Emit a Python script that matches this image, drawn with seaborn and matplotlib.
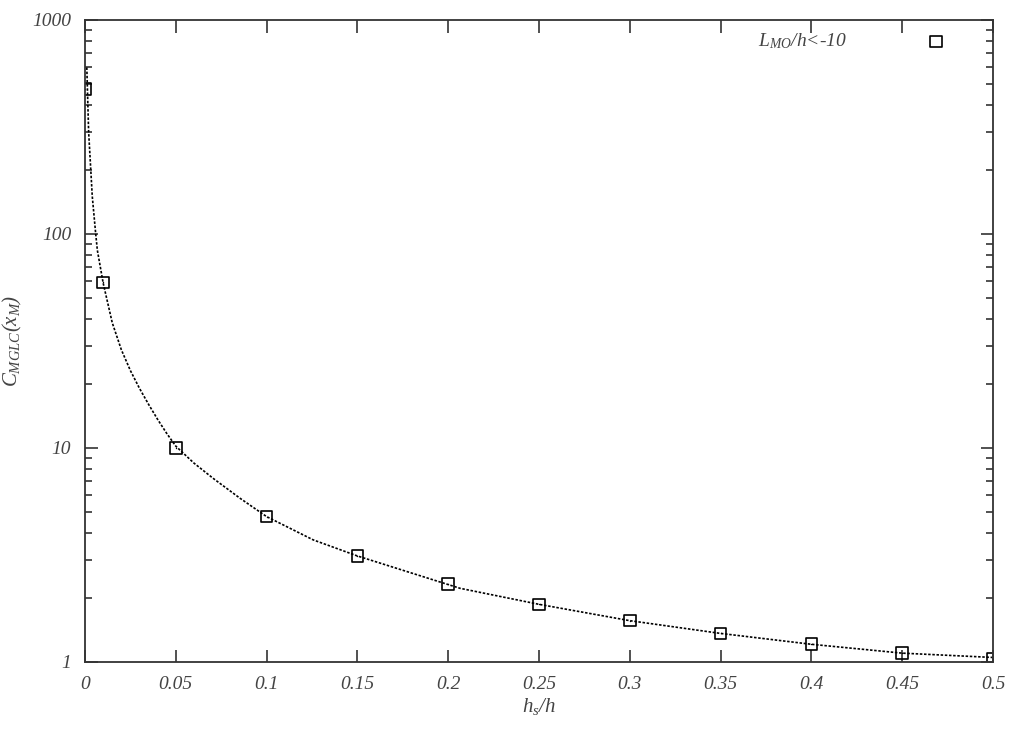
import matplotlib
matplotlib.use('Agg')
import matplotlib.pyplot as plt
import matplotlib.ticker as mticker
import seaborn as sns
import pandas as pd
import numpy as np

# measured points (squares)
hs_h = [0.0, 0.01, 0.05, 0.10, 0.15, 0.20, 0.25, 0.30, 0.35, 0.40, 0.45, 0.50]
c_mglc = [476, 59.4, 10.0, 4.78, 3.13, 2.31, 1.86, 1.56, 1.36, 1.21, 1.10, 1.03]

# fitted curve
curve_x = [0.001, 0.002, 0.004, 0.0059, 0.0068, 0.01, 0.015, 0.02, 0.025, 0.03, 0.035,
           0.04, 0.045, 0.05, 0.06, 0.0707, 0.0854, 0.10, 0.1257, 0.15, 0.2065, 0.25,
           0.30, 0.35, 0.40, 0.45, 0.50]
curve_y = [600, 300, 150, 100, 84, 59, 38.5, 28.8, 23.0, 19.0, 16.0,
           13.6, 11.7, 10.2, 8.5, 7.2, 5.82, 4.78, 3.72, 3.13, 2.21, 1.86,
           1.56, 1.36, 1.21, 1.10, 1.05]

legend_label = r'$L_{MO}/h$<-10'

sns.set_style('ticks')
plt.rcParams['font.family'] = ['Liberation Serif', 'DejaVu Serif']
plt.rcParams['font.style'] = 'italic'
plt.rcParams['mathtext.fontset'] = 'custom'
plt.rcParams['mathtext.rm'] = 'Liberation Serif:italic'
plt.rcParams['mathtext.it'] = 'Liberation Serif:italic'

df_pts = pd.DataFrame({'x': hs_h, 'y': c_mglc})
df_fit = pd.DataFrame({'x': curve_x, 'y': curve_y})

fig = plt.figure(figsize=(10.24, 7.33), dpi=100)
ax = fig.add_axes([85/1024, 1-662/733, 908/1024, 642/733])

sns.lineplot(data=df_fit, x='x', y='y', ax=ax, color='black', linestyle=(0, (1.5, 1.0)),
             linewidth=1.2)
sns.scatterplot(data=df_pts, x='x', y='y', ax=ax, marker='s', s=70, facecolor='none',
                edgecolor='black', linewidth=1.2, label=legend_label)
sns.scatterplot(data=df_pts, x='x', y='y', ax=ax, marker='.', s=4, color='black',
                linewidth=0, legend=False)

ax.set_yscale('log')
ax.set_xlim(0, 0.5)
ax.set_ylim(1, 1000)

ax.set_xticks([0, 0.05, 0.1, 0.15, 0.2, 0.25, 0.3, 0.35, 0.4, 0.45, 0.5])
ax.set_xticklabels(['0', '0.05', '0.1', '0.15', '0.2', '0.25', '0.3', '0.35', '0.4', '0.45', '0.5'])
ax.set_yticks([1, 10, 100, 1000])
ax.yaxis.set_major_formatter(mticker.FixedFormatter(['1', '10', '100', '1000']))
ax.yaxis.set_minor_locator(mticker.LogLocator(base=10, subs=np.arange(2, 10)))
ax.yaxis.set_minor_formatter(mticker.NullFormatter())

ax.tick_params(which='both', direction='in', top=True, right=True, colors='#333333',
               labelcolor='#444444', labelsize=14, width=1.2)
ax.tick_params(which='major', length=9, pad=10)
ax.tick_params(which='minor', length=5)
for sp in ax.spines.values():
    sp.set_visible(True)
    sp.set_linewidth(1.3)
    sp.set_color('#333333')

ax.set_xlabel(r'$h_s/h$', fontsize=15, color='#444444', labelpad=2)
ax.set_ylabel(r'$C_{MGLC}(x_M)$', fontsize=15, color='#444444', labelpad=6)

ax.legend(loc='upper right', bbox_to_anchor=(0.98, 1.012), frameon=False, markerfirst=False,
          fontsize=14, handletextpad=3.6, borderaxespad=0.6, labelcolor='#444444')

fig.savefig('out.png', dpi=100)
